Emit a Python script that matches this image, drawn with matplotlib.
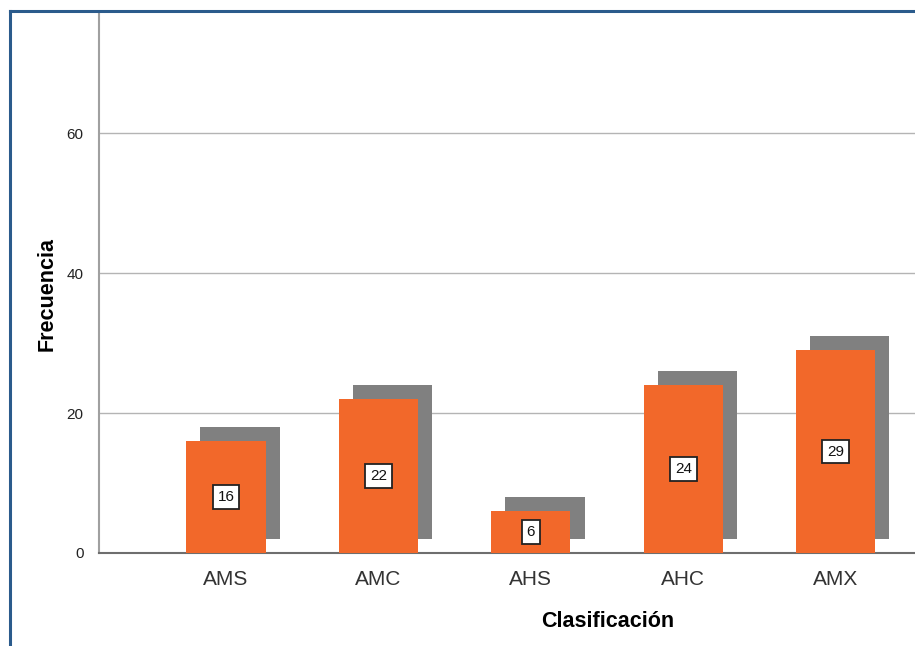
import matplotlib
matplotlib.use("Agg")
import matplotlib.pyplot as plt
from matplotlib.lines import Line2D
import numpy as np

plt.rcParams["font.family"] = ["Liberation Sans", "DejaVu Sans"]

categories = ["AMS", "AMC", "AHS", "AHC", "AMX"]
counts = [16, 22, 6, 24, 29]
yticks = [0, 20, 40, 60]

W, H = 915, 646
fig = plt.figure(figsize=(W / 100, H / 100), dpi=100)
ax = fig.add_axes([99 / W, 1 - 553 / H, 1 - 99 / W, (553 - 12) / H])

x = np.arange(len(categories))
bar_w = 0.52
dx, dy = 0.092, 2.0  # drop-shadow offset

# gray shadow boxes behind the bars
ax.bar(x + dx, counts, width=bar_w, bottom=dy, color="#808080", zorder=2)
ax.bar(x, counts, width=bar_w, color="#f2682a", zorder=3)

for xi, v in zip(x, counts):
    ax.text(xi, v / 2, str(v), ha="center", va="center", fontsize=11,
            color="#111111", zorder=5,
            bbox=dict(boxstyle="square,pad=0.32", fc="white", ec="#222222", lw=1.3))

ax.set_xlim(-0.833, 4.52)
ax.set_ylim(0, 77.3)
ax.set_yticks(yticks)
ax.set_yticklabels([str(t) for t in yticks], fontsize=11, color="#222222")
ax.set_xticks(x)
ax.set_xticklabels(categories, fontsize=15, color="#333333")
ax.tick_params(axis="both", length=0)
ax.tick_params(axis="y", pad=11)
ax.tick_params(axis="x", pad=12)
ax.yaxis.grid(True, color="#b4b4b4", lw=1)
ax.set_axisbelow(True)

for s in ("top", "right"):
    ax.spines[s].set_visible(False)
ax.spines["left"].set_color("#a0a0a0")
ax.spines["left"].set_linewidth(1.5)
ax.spines["bottom"].set_color("#6e6e6e")
ax.spines["bottom"].set_linewidth(1.5)

ax.set_ylabel("Frecuencia", fontsize=15.5, fontweight="bold")
ax.set_xlabel("Clasificación", fontsize=15.5, fontweight="bold")
ax.xaxis.set_label_coords((608 - 99) / (W - 99), -(611 - 553) / (553 - 12))
ax.yaxis.set_label_coords(-(99 - 58) / (W - 99), (553 - 294) / (553 - 12))

# blue frame around the chart
frame = "#2b5b8c"
fig.add_artist(Line2D([9.5 / W, 9.5 / W], [0, 1 - 10.5 / H], color=frame, lw=2.2,
                      transform=fig.transFigure))
fig.add_artist(Line2D([9.5 / W, 1], [1 - 10.5 / H, 1 - 10.5 / H], color=frame, lw=2.2,
                      transform=fig.transFigure))

fig.savefig("out.png", dpi=100)
